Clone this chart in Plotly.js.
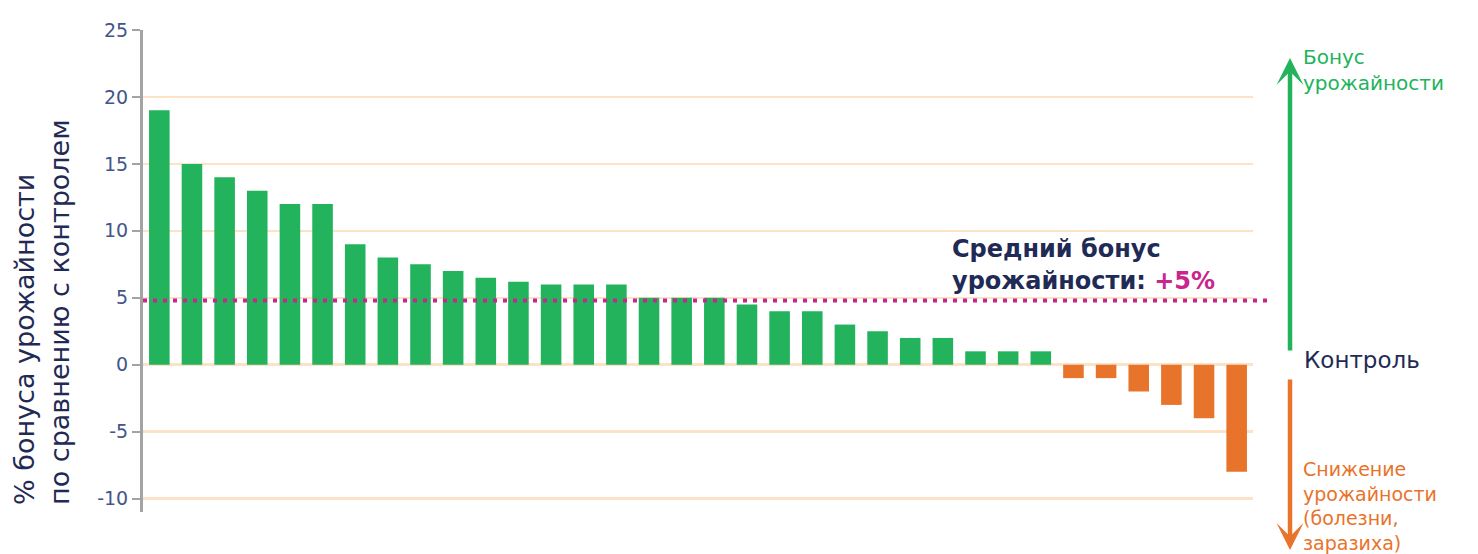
<!DOCTYPE html>
<html>
<head>
<meta charset="utf-8">
<script src="https://cdn.plot.ly/plotly-3.0.1.min.js"></script>
<style>html,body{margin:0;padding:0;background:#fff;}#chart{width:1478px;height:554px;}</style>
</head>
<body>
<div id="chart"></div>
<script>
// ---- data ----
const trials = Array.from({length: 34}, (_, i) => 'Опыт ' + (i + 1));
const yieldBonus = [19, 15, 14, 13, 12, 12, 9, 8, 7.5, 7, 6.5, 6.2, 6, 6, 6, 5, 5, 5, 4.5, 4, 4, 3, 2.5, 2, 2, 1, 1, 1, -1, -1, -2, -3, -4, -8];
const meanBonus = 4.8;
const yTicks = [-10, -5, 0, 5, 10, 15, 20, 25];
const yTitleLines = ['% бонуса урожайности', 'по сравнению с контролем'];
const meanLabelLines = ['Средний бонус', 'урожайности: '];
const meanLabelValue = '+5%';
const upLabel = ['Бонус', 'урожайности'];
const controlLabel = 'Контроль';
const downLabel = ['Снижение', 'урожайности', '(болезни,', 'заразиха)'];

// ---- style ----
const GREEN = '#22B35C', ORANGE = '#E8732A', NAVY = '#1F2A55', MAGENTA = '#C8268C';
const FONT = 'DejaVu Sans, Liberation Sans, Arial, sans-serif';
const barColors = yieldBonus.map(v => v >= 0 ? GREEN : ORANGE);

const trace = {
  type: 'bar', x: trials, y: yieldBonus,
  marker: {color: barColors, line: {width: 0}},
  hoverinfo: 'x+y'
};

const annotations = [];
// y title (rotated)
annotations.push({
  xref: 'paper', yref: 'paper', x: -0.091, y: 0.415, xanchor: 'center', yanchor: 'middle',
  text: yTitleLines.join('<br>'), textangle: -90, align: 'left', showarrow: false,
  font: {family: FONT, size: 27, color: NAVY}
});
// mean label
annotations.push({
  xref: 'paper', yref: 'paper', x: (950 - 143) / 1110, y: (512 - 249) / 482, xanchor: 'left', yanchor: 'middle',
  text: '<b>' + meanLabelLines[0] + '</b>', showarrow: false, font: {family: FONT, size: 24, color: NAVY}
});
annotations.push({
  xref: 'paper', yref: 'paper', x: (950 - 143) / 1110, y: (512 - 281) / 482, xanchor: 'left', yanchor: 'middle',
  text: '<b>' + meanLabelLines[1] + '<span style="color:' + MAGENTA + '">' + meanLabelValue + '</span></b>',
  showarrow: false, font: {family: FONT, size: 24, color: NAVY}
});
// arrows
annotations.push({
  xref: 'paper', yref: 'paper', x: (1290 - 143) / 1110, y: (512 - 58) / 482,
  axref: 'pixel', ayref: 'pixel', ax: 0, ay: 294, text: '', showarrow: true,
  arrowhead: 3, arrowwidth: 4.5, arrowsize: 1, arrowcolor: GREEN
});
annotations.push({
  xref: 'paper', yref: 'paper', x: (1290 - 143) / 1110, y: (512 - 550) / 482,
  axref: 'pixel', ayref: 'pixel', ax: 0, ay: -172, text: '', showarrow: true,
  arrowhead: 3, arrowwidth: 4.5, arrowsize: 1, arrowcolor: ORANGE
});
// right labels
const lx = (1302 - 143) / 1110;
annotations.push({
  xref: 'paper', yref: 'paper', x: lx, y: (512 - 44) / 482, xanchor: 'left', yanchor: 'top',
  text: upLabel.join('<br>'), align: 'left', showarrow: false, borderpad: 0,
  font: {family: FONT, size: 20, color: GREEN}
});
annotations.push({
  xref: 'paper', yref: 'paper', x: lx, y: (512 - 360) / 482, xanchor: 'left', yanchor: 'middle',
  text: controlLabel, showarrow: false, font: {family: FONT, size: 23, color: NAVY}
});
annotations.push({
  xref: 'paper', yref: 'paper', x: lx, y: (512 - 555) / 482, xanchor: 'left', yanchor: 'bottom',
  text: downLabel.join('<br>'), align: 'left', showarrow: false, borderpad: 0,
  font: {family: FONT, size: 19, color: ORANGE}
});

const layout = {
  width: 1478, height: 554,
  margin: {l: 143, r: 225, t: 30, b: 42},
  paper_bgcolor: '#fff', plot_bgcolor: '#fff',
  showlegend: false, bargap: 0.37,
  font: {family: FONT},
  xaxis: {range: [-0.5, trials.length - 0.5], showticklabels: false, showgrid: false, zeroline: false, showline: false, ticks: ''},
  yaxis: {
    range: [-11, 25], tickvals: yTicks, ticktext: yTicks.map(String),
    showline: true, linecolor: '#A3A3A3', linewidth: 3,
    ticks: 'outside', ticklen: 8, tickwidth: 2, tickcolor: '#A3A3A3',
    showgrid: true, gridcolor: '#FDE3C6', gridwidth: 2.5, zeroline: false,
    tickfont: {family: FONT, size: 19, color: '#44558A'}, ticklabelstandoff: 0
  },
  shapes: [{
    type: 'line', xref: 'paper', yref: 'y', x0: 0, x1: (1270 - 143) / 1110, y0: meanBonus, y1: meanBonus,
    line: {color: MAGENTA, width: 4, dash: '4px,6px'}, layer: 'above'
  }],
  annotations: annotations
};

Plotly.newPlot('chart', [trace], layout, {displayModeBar: false, staticPlot: true});
</script>
</body>
</html>
